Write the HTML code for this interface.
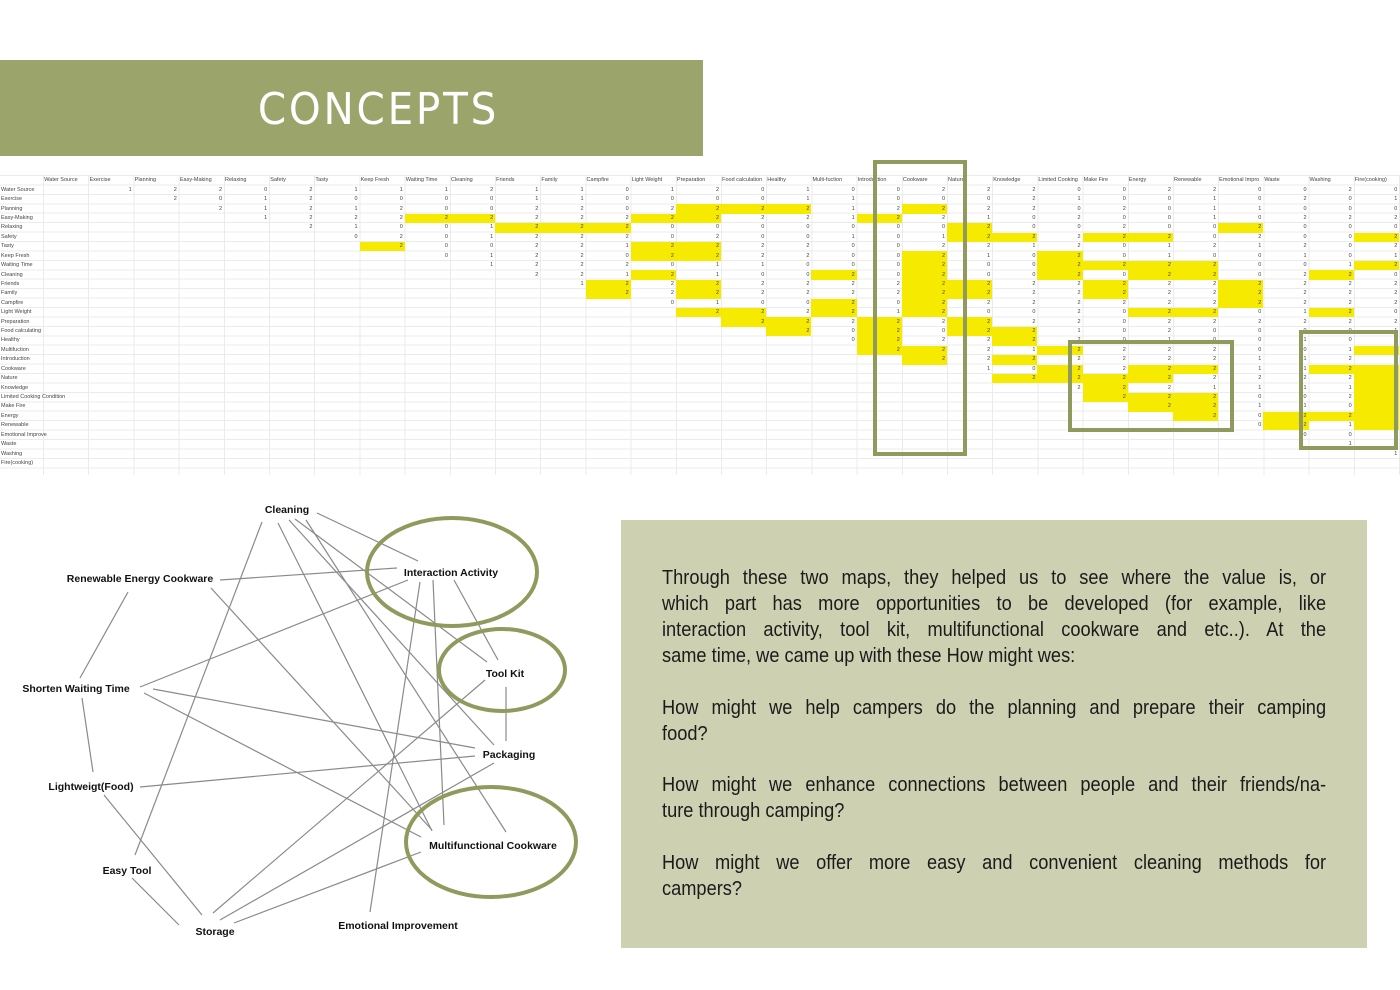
<!DOCTYPE html>
<html><head><meta charset="utf-8">
<style>
*{margin:0;padding:0;box-sizing:border-box}
body{width:1400px;height:990px;background:#fff;position:relative;overflow:hidden;font-family:"Liberation Sans",sans-serif}
.band{position:absolute;left:0;top:60px;width:703px;height:96px;background:#9ba56b}
.band span{position:absolute;left:0;width:757px;top:24px;text-align:center;color:#fff;font-size:44px;letter-spacing:3px;font-family:"DejaVu Sans","Liberation Sans",sans-serif;transform:scaleX(0.92);transform-origin:378px 0}
.hl{position:absolute;left:0;top:175px;width:1400px;height:300px;background:repeating-linear-gradient(to bottom,#ebebeb 0 1px,transparent 1px 9.43px);background-position:0 0}
.vl{position:absolute;left:43.3px;top:175px;width:1357px;height:300px;background:repeating-linear-gradient(to right,#ebebeb 0 1px,transparent 1px 45.2px)}
table{position:absolute;left:0;top:175.5px;border-collapse:collapse;table-layout:fixed;width:1399.3px;font-size:5.5px;color:#444}
td{padding:0 2px 0 1px;height:9.43px;line-height:9px;text-align:right;white-space:nowrap;overflow:visible}
tr.h td{text-align:left;height:10px}
td.l{text-align:left}
td.y{background:#f6ea00}
.box{position:absolute;border:4px solid #8f9a5d}
.txt{position:absolute;left:621px;top:520px;width:746px;height:428px;background:#cdd1b2}
.txt div{position:absolute;left:41px;width:747px;transform:scaleX(0.889);transform-origin:0 0;font-family:"Liberation Sans",sans-serif;font-size:20.5px;color:#1b1b1b;line-height:26px;text-align:justify;text-align-last:justify;white-space:nowrap}
.txt div.e{text-align-last:left}
svg text{font-family:"Liberation Sans",sans-serif;font-size:10.5px;font-weight:bold;fill:#111}
</style></head><body>
<div class="band"><span>CONCEPTS</span></div>
<div class="hl"></div><div class="vl"></div>
<table>
<colgroup><col style="width:43.3px"><col span="30" style="width:45.2px"></colgroup>
<tr class="h"><td></td><td>Water Source<td>Exercise<td>Planning<td>Easy-Making<td>Relaxing<td>Safety<td>Tasty<td>Keep Fresh<td>Waiting Time<td>Cleaning<td>Friends<td>Family<td>Campfire<td>Light Weight<td>Preparation<td>Food calculation<td>Healthy<td>Multi-fuction<td>Introduction<td>Cookware<td>Nature<td>Knowledge<td>Limited Cooking<td>Make Fire<td>Energy<td>Renewable<td>Emotional Impro<td>Waste<td>Washing<td>Fire(cooking)</tr>
<tr><td class=l>Water Source<td colspan=1><td>1<td>2<td>2<td>0<td>2<td>1<td>1<td>1<td>2<td>1<td>1<td>0<td>1<td>2<td>0<td>1<td>0<td>0<td>2<td>2<td>2<td>0<td>0<td>2<td>2<td>0<td>0<td>2<td>0</tr>
<tr><td class=l>Exercise<td colspan=2><td>2<td>0<td>1<td>2<td>0<td>0<td>0<td>0<td>1<td>1<td>0<td>0<td>0<td>0<td>1<td>1<td>0<td>0<td>0<td>2<td>1<td>0<td>0<td>1<td>0<td>2<td>0<td>1</tr>
<tr><td class=l>Planning<td colspan=3><td>2<td>1<td>2<td>1<td>2<td>0<td>0<td>2<td>2<td>0<td>2<td class=y>2<td class=y>2<td class=y>2<td>1<td>2<td class=y>2<td>2<td>2<td>0<td>2<td>0<td>1<td>1<td>0<td>0<td>0</tr>
<tr><td class=l>Easy-Making<td colspan=4><td>1<td>2<td>2<td>2<td class=y>2<td class=y>2<td>2<td>2<td>2<td class=y>2<td class=y>2<td>2<td>2<td>1<td class=y>2<td>2<td>1<td>0<td>2<td>0<td>0<td>1<td>0<td>2<td>2<td>2</tr>
<tr><td class=l>Relaxing<td colspan=5><td>2<td>1<td>0<td>0<td>1<td class=y>2<td class=y>2<td class=y>2<td>0<td>0<td>0<td>0<td>0<td>0<td>0<td class=y>2<td>0<td>0<td>2<td>0<td>0<td class=y>2<td>0<td>0<td>0</tr>
<tr><td class=l>Safety<td colspan=6><td>0<td>2<td>0<td>1<td>2<td>2<td>2<td>0<td>2<td>0<td>0<td>1<td>0<td>1<td class=y>2<td class=y>2<td>2<td class=y>2<td class=y>2<td>0<td>2<td>0<td>0<td class=y>2</tr>
<tr><td class=l>Tasty<td colspan=7><td class=y>2<td>0<td>0<td>2<td>2<td>1<td class=y>2<td class=y>2<td>2<td>2<td>0<td>0<td>2<td>2<td>1<td>2<td>0<td>1<td>2<td>1<td>2<td>0<td>2</tr>
<tr><td class=l>Keep Fresh<td colspan=8><td>0<td>1<td>2<td>2<td>0<td class=y>2<td class=y>2<td>2<td>2<td>0<td>0<td class=y>2<td>1<td>0<td class=y>2<td>0<td>1<td>0<td>0<td>1<td>0<td>1</tr>
<tr><td class=l>Waiting Time<td colspan=9><td>1<td>2<td>2<td>2<td>0<td>1<td>1<td>0<td>0<td>0<td class=y>2<td>0<td>0<td class=y>2<td class=y>2<td class=y>2<td class=y>2<td>0<td>0<td>1<td class=y>2</tr>
<tr><td class=l>Cleaning<td colspan=10><td>2<td>2<td>1<td class=y>2<td>1<td>0<td>0<td class=y>2<td>0<td class=y>2<td>0<td>0<td class=y>2<td>0<td class=y>2<td class=y>2<td>0<td>2<td class=y>2<td>0</tr>
<tr><td class=l>Friends<td colspan=11><td>1<td class=y>2<td>2<td class=y>2<td>2<td>2<td>2<td>2<td class=y>2<td class=y>2<td>2<td>2<td class=y>2<td>2<td>2<td class=y>2<td>2<td>2<td>2</tr>
<tr><td class=l>Family<td colspan=12><td class=y>2<td>2<td class=y>2<td>2<td>2<td>2<td>2<td class=y>2<td class=y>2<td>2<td>2<td class=y>2<td>2<td>2<td class=y>2<td>2<td>2<td>2</tr>
<tr><td class=l>Campfire<td colspan=13><td>0<td>1<td>0<td>0<td class=y>2<td>0<td class=y>2<td>2<td>2<td>2<td>2<td>2<td>2<td class=y>2<td>2<td>2<td>2</tr>
<tr><td class=l>Light Weight<td colspan=14><td class=y>2<td class=y>2<td>2<td class=y>2<td>1<td class=y>2<td>0<td>0<td>2<td>0<td class=y>2<td class=y>2<td>0<td>1<td class=y>2<td>0</tr>
<tr><td class=l>Preparation<td colspan=15><td class=y>2<td class=y>2<td>2<td class=y>2<td>2<td class=y>2<td>2<td>2<td>0<td>2<td>2<td>2<td>2<td>2<td>2</tr>
<tr><td class=l>Food calculating<td colspan=16><td class=y>2<td>0<td class=y>2<td>0<td class=y>2<td class=y>2<td>1<td>0<td>2<td>0<td>0<td>0<td>0<td>1</tr>
<tr><td class=l>Healthy<td colspan=17><td>0<td class=y>2<td>2<td>2<td class=y>2<td>2<td>0<td>1<td>0<td>0<td>1<td>0<td>1</tr>
<tr><td class=l>Multifuction<td colspan=18><td class=y>2<td class=y>2<td>2<td>1<td class=y>2<td>2<td>2<td>2<td>0<td>0<td>1<td class=y>2</tr>
<tr><td class=l>Introduction<td colspan=19><td class=y>2<td>2<td class=y>2<td>2<td>2<td>2<td>2<td>1<td>1<td>2<td>2</tr>
<tr><td class=l>Cookware<td colspan=20><td>1<td>0<td class=y>2<td>2<td class=y>2<td class=y>2<td>1<td>1<td class=y>2<td class=y>2</tr>
<tr><td class=l>Nature<td colspan=21><td class=y>2<td class=y>2<td class=y>2<td class=y>2<td>2<td>2<td>2<td>2<td class=y>2</tr>
<tr><td class=l>Knowledge<td colspan=22><td>2<td class=y>2<td>2<td>1<td>1<td>1<td>1<td class=y>2</tr>
<tr><td class=l>Limited Cooking Condition<td colspan=23><td class=y>2<td class=y>2<td class=y>2<td>0<td>0<td>2<td class=y>2</tr>
<tr><td class=l>Make Fire<td colspan=24><td class=y>2<td class=y>2<td>1<td>1<td>0<td class=y>2</tr>
<tr><td class=l>Energy<td colspan=25><td class=y>2<td>0<td class=y>2<td class=y>2<td class=y>2</tr>
<tr><td class=l>Renewable<td colspan=26><td>0<td class=y>2<td>1<td class=y>2</tr>
<tr><td class=l>Emotional Improve<td colspan=27><td>0<td>0<td>2</tr>
<tr><td class=l>Waste<td colspan=28><td>1<td>2</tr>
<tr><td class=l>Washing<td colspan=29><td>1</tr>
<tr><td class=l>Fire(cooking)<td colspan=30></tr>
</table>
<div class="box" style="left:873px;top:160px;width:94px;height:296px"></div>
<div class="box" style="left:1068px;top:340px;width:166px;height:92px"></div>
<div class="box" style="left:1299px;top:330px;width:99px;height:120px"></div>

<svg style="position:absolute;left:0;top:490px" width="600" height="470" viewBox="0 490 600 470">
<g stroke="#8a8a8a" stroke-width="1.2" fill="none">
<line x1="317" y1="513" x2="418" y2="561"/>
<line x1="262" y1="522" x2="135" y2="855"/>
<line x1="278" y1="523" x2="432" y2="831"/>
<line x1="289" y1="520" x2="494" y2="745"/>
<line x1="295" y1="519" x2="487" y2="662"/>
<line x1="306" y1="520" x2="506" y2="832"/>
<line x1="220" y1="580" x2="397" y2="568"/>
<line x1="211" y1="588" x2="432" y2="830"/>
<line x1="128" y1="592" x2="80" y2="678"/>
<line x1="140" y1="687" x2="408" y2="580"/>
<line x1="153" y1="689" x2="475" y2="748"/>
<line x1="144" y1="693" x2="421" y2="837"/>
<line x1="82" y1="698" x2="93" y2="772"/>
<line x1="140" y1="787" x2="475" y2="756"/>
<line x1="104" y1="795" x2="202" y2="915"/>
<line x1="132" y1="878" x2="179" y2="925"/>
<line x1="454" y1="580" x2="498" y2="660"/>
<line x1="433" y1="580" x2="444" y2="825"/>
<line x1="420" y1="582" x2="370" y2="912"/>
<line x1="506" y1="687" x2="506" y2="741"/>
<line x1="485" y1="680" x2="213" y2="913"/>
<line x1="494" y1="763" x2="220" y2="920"/>
<line x1="421" y1="852" x2="234" y2="923"/>
</g>
<g stroke="#8f9a5d" stroke-width="4" fill="none">
<ellipse cx="452" cy="572" rx="85" ry="54"/>
<ellipse cx="502" cy="670" rx="63" ry="41"/>
<ellipse cx="491" cy="842" rx="85" ry="55"/>
</g>
<text x="287" y="513" text-anchor="middle">Cleaning</text>
<text x="140" y="582" text-anchor="middle">Renewable Energy Cookware</text>
<text x="451" y="576" text-anchor="middle">Interaction Activity</text>
<text x="505" y="677" text-anchor="middle">Tool Kit</text>
<text x="76" y="692" text-anchor="middle">Shorten Waiting Time</text>
<text x="509" y="758" text-anchor="middle">Packaging</text>
<text x="91" y="790" text-anchor="middle">Lightweigt(Food)</text>
<text x="493" y="849" text-anchor="middle">Multifunctional Cookware</text>
<text x="127" y="874" text-anchor="middle">Easy Tool</text>
<text x="215" y="935" text-anchor="middle">Storage</text>
<text x="398" y="929" text-anchor="middle">Emotional Improvement</text>
</svg>

<div class="txt">
<div style="top:45px">Through these two maps, they helped us to see where the value is, or</div>
<div style="top:71px">which part has more opportunities to be developed (for example, like</div>
<div style="top:97px">interaction activity, tool kit, multifunctional cookware and etc..). At the</div>
<div class="e" style="top:123px">same time, we came up with these How might wes:</div>
<div style="top:175px">How might we help campers do the planning and prepare their camping</div>
<div class="e" style="top:201px">food?</div>
<div style="top:252px">How might we enhance connections between people and their friends/na-</div>
<div class="e" style="top:278px">ture through camping?</div>
<div style="top:330px">How might we offer more easy and convenient cleaning methods for</div>
<div class="e" style="top:356px">campers?</div>
</div>
</body></html>
